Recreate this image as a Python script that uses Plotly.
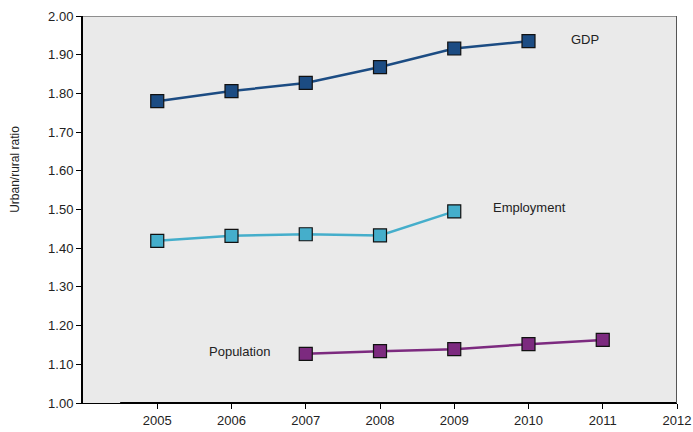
import plotly.graph_objects as go

years_gdp = [2005, 2006, 2007, 2008, 2009, 2010]
gdp = [1.780, 1.806, 1.827, 1.868, 1.916, 1.935]
years_emp = [2005, 2006, 2007, 2008, 2009]
employment = [1.419, 1.432, 1.436, 1.433, 1.495]
years_pop = [2007, 2008, 2009, 2010, 2011]
population = [1.127, 1.134, 1.139, 1.152, 1.163]
x_ticks = [2005, 2006, 2007, 2008, 2009, 2010, 2011, 2012]
y_ticks = [1.0, 1.1, 1.2, 1.3, 1.4, 1.5, 1.6, 1.7, 1.8, 1.9, 2.0]

FONT = "Liberation Sans, Arial, sans-serif"

fig = go.Figure()

def add_series(x, y, color):
    fig.add_trace(go.Scatter(
        x=x, y=y, mode="lines+markers",
        line=dict(color=color, width=2.5),
        marker=dict(symbol="square", size=13, color=color,
                    line=dict(color="#111111", width=1.2)),
        showlegend=False, cliponaxis=False))

add_series(years_gdp, gdp, "#1C4C83")
add_series(years_emp, employment, "#45AECB")
add_series(years_pop, population, "#7C2A7F")

labels = [("GDP", 2010.55, 1.94), ("Employment", 2009.49, 1.504), ("Population", 2005.67, 1.132)]
for text, x, y in labels:
    fig.add_annotation(x=x, y=y, text=text, showarrow=False, xanchor="left",
                       yanchor="middle", font=dict(family=FONT, size=13, color="#222222"))

# y-axis title placed like the reference
fig.add_annotation(xref="paper", yref="paper", x=-0.1145, y=0.605, text="Urban/rural ratio",
                   textangle=-90, showarrow=False, xanchor="center", yanchor="middle",
                   font=dict(family=FONT, size=12, color="#222222"))

# thick bottom axis segment
fig.add_shape(type="line", xref="x", yref="y", x0=2004.5, x1=2012, y0=1.0, y1=1.0,
              line=dict(color="black", width=2.2), layer="above")
# top and right border
fig.add_shape(type="line", xref="x", yref="y", x0=2004, x1=2012, y0=2.0, y1=2.0,
              line=dict(color="#333333", width=1.2), layer="above")
fig.add_shape(type="line", xref="x", yref="y", x0=2012, x1=2012, y0=1.0, y1=2.0,
              line=dict(color="#555555", width=2), layer="above")

fig.update_layout(
    width=693, height=432,
    margin=dict(l=83, r=16, t=16, b=29),
    paper_bgcolor="white", plot_bgcolor="#EAEAEA",
    font=dict(family=FONT, size=13, color="#222222"),
    xaxis=dict(range=[2004, 2012], tickvals=x_ticks, ticktext=[str(v) for v in x_ticks],
               showgrid=False, zeroline=False, showline=True, linecolor="black", linewidth=1,
               ticks="outside", ticklen=5, tickcolor="black", tickwidth=1, automargin=False,
               ticklabeloverflow="allow",
               tickfont=dict(family=FONT, size=13, color="#222222")),
    yaxis=dict(range=[1.0, 2.0], tickvals=y_ticks, tickformat=".2f",
               showgrid=False, zeroline=False, showline=True, linecolor="black", linewidth=2,
               ticks="outside", ticklen=5, tickcolor="black", tickwidth=1, automargin=False,
               tickfont=dict(family=FONT, size=13, color="#222222")),
)

fig.write_html("out.html", config={"displayModeBar": False, "staticPlot": True},
               post_script="document.body.style.margin='0';document.body.style.overflow='hidden';")
